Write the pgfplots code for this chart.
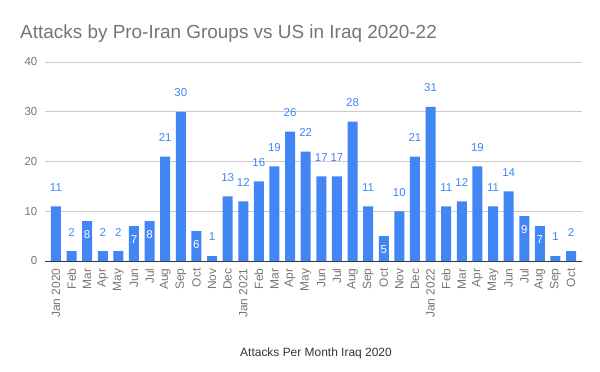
\documentclass[border=0pt]{standalone}
\usepackage{fontspec}
\setmainfont{Liberation Sans}
\usepackage{pgfplots}
\pgfplotsset{compat=1.18}
\definecolor{barblue}{HTML}{4285F4}
\definecolor{txtgray}{HTML}{757575}
\definecolor{gridgray}{HTML}{CCCCCC}
\definecolor{lblgray}{HTML}{333333}
\begin{document}
\begin{tikzpicture}[x=1bp,y=1bp]
\useasboundingbox (0,0) rectangle (600,371);
\node[anchor=base west, font=\fontsize{19}{22}\selectfont, text=txtgray, inner sep=0pt] at (20,333) {Attacks by Pro-Iran Groups vs US in Iraq 2020-22};
\begin{axis}[
  at={(45bp,110bp)}, anchor=south west,
  scale only axis, width=537bp, height=199bp,
  xmin=-0.7, xmax=33.7, ymin=0, ymax=40,
  /pgf/number format/assume math mode=true,
  axis lines=left,
  x axis line style={-, draw=lblgray, line width=1pt},
  y axis line style={draw=none},
  tick style={draw=none},
  ytick={0,10,20,30,40},
  ymajorgrids,
  grid style={draw=gridgray, line width=0.8pt},
  yticklabel style={font=\fontsize{11.5}{13}\selectfont, text=txtgray, xshift=-2bp},
  xtick={0,...,33},
  xticklabels={Jan 2020,Feb,Mar,Apr,May,Jun,Jul,Aug,Sep,Oct,Nov,Dec,Jan 2021,Feb,Mar,Apr,May,Jun,Jul,Aug,Sep,Oct,Nov,Dec,Jan 2022,Feb,Mar,Apr,May,Jun,Jul,Aug,Sep,Oct},
  xticklabel style={rotate=90, anchor=east, font=\fontsize{12}{14}\selectfont, text=txtgray},
  xticklabel shift=2bp,
  clip=false,
]
% all bars
\addplot[ybar, bar width=10bp, fill=barblue, draw=none] coordinates {
(0,11) (1,2) (2,8) (3,2) (4,2) (5,7) (6,8) (7,21) (8,30) (9,6) (10,1) (11,13)
(12,12) (13,16) (14,19) (15,26) (16,22) (17,17) (18,17) (19,28) (20,11) (21,5) (22,10) (23,21)
(24,31) (25,11) (26,12) (27,19) (28,11) (29,14) (30,9) (31,7) (32,1) (33,2)};
% labels above the bars
\addplot[only marks, mark=text, text mark={}, forget plot, point meta=y,
  nodes near coords,
  nodes near coords style={anchor=center, yshift=19bp, font=\fontsize{11.5}{13}\selectfont, text=barblue}]
  coordinates {
(0,11) (1,2) (3,2) (4,2) (7,21) (8,30) (10,1) (11,13)
(12,12) (13,16) (14,19) (15,26) (16,22) (17,17) (18,17) (19,28) (20,11) (22,10) (23,21)
(24,31) (25,11) (26,12) (27,19) (28,11) (29,14) (32,1) (33,2)};
% labels inside the bars
\addplot[only marks, mark=text, text mark={}, forget plot, point meta=y,
  nodes near coords,
  nodes near coords style={anchor=center, yshift=-13bp, font=\fontsize{11.5}{13}\selectfont, text=white}]
  coordinates {(2,8) (5,7) (6,8) (9,6) (21,5) (30,9) (31,7)};
\end{axis}
\node[anchor=base, font=\fontsize{12}{14}\selectfont, text=lblgray, inner sep=0pt] at (316,15) {Attacks Per Month Iraq 2020};
\end{tikzpicture}
\end{document}
